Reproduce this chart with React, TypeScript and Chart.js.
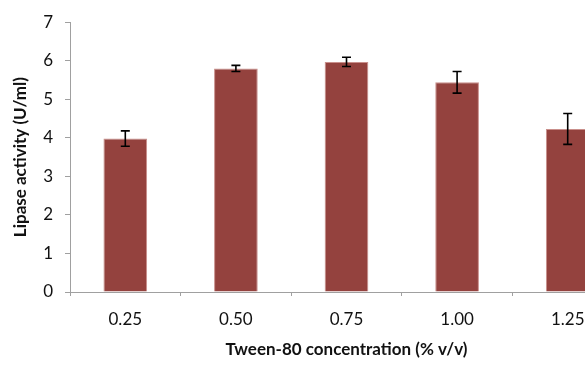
import React, { useEffect, useRef } from "react";
import { Chart, registerables } from "chart.js";

Chart.register(...registerables);

const categories = ["0.25", "0.50", "0.75", "1.00", "1.25"];
const activity = [3.98, 5.8, 5.97, 5.44, 4.23];
const errors = [0.2, 0.08, 0.12, 0.28, 0.4];
const yTicks = [0, 1, 2, 3, 4, 5, 6, 7];

const errorBarPlugin = {
  id: "errorBars",
  afterDatasetsDraw(chart: any) {
    const meta = chart.getDatasetMeta(0);
    const y = chart.scales.y;
    const ctx = chart.ctx;
    ctx.save();
    ctx.strokeStyle = "#000";
    ctx.lineWidth = 1.6;
    meta.data.forEach((bar: any, i: number) => {
      const x = bar.x;
      const top = y.getPixelForValue(activity[i] + errors[i]);
      const bot = y.getPixelForValue(activity[i] - errors[i]);
      const cap = 4.5;
      ctx.beginPath();
      ctx.moveTo(x, top);
      ctx.lineTo(x, bot);
      ctx.moveTo(x - cap, top);
      ctx.lineTo(x + cap, top);
      ctx.moveTo(x - cap, bot);
      ctx.lineTo(x + cap, bot);
      ctx.stroke();
    });
    ctx.restore();
  },
};

export default function App() {
  const ref = useRef<HTMLCanvasElement | null>(null);
  useEffect(() => {
    if (!ref.current) return;
    const font = "Lato, 'Open Sans', sans-serif";
    const chart = new Chart(ref.current, {
      type: "bar",
      data: {
        labels: categories,
        datasets: [
          {
            data: activity,
            backgroundColor: "#94423e",
            borderColor: "#c98f8b",
            borderWidth: 1,
            barPercentage: 0.395,
            categoryPercentage: 1,
          },
        ],
      },
      options: {
        animation: false,
        responsive: false,
        maintainAspectRatio: false,
        layout: { padding: { top: 17, right: 17, bottom: 0, left: 0 } },
        plugins: { legend: { display: false }, tooltip: { enabled: false } },
        scales: {
          x: {
            grid: {
              display: true,
              drawOnChartArea: false,
              drawTicks: true,
              tickLength: 4,
              color: "#a0a0a0",
              offset: true,
            },
            border: { color: "#a0a0a0", width: 1 },
            ticks: {
              color: "#111",
              font: { family: font, size: 17 },
              padding: 13,
              maxRotation: 0,
            },
            title: {
              display: true,
              text: "Tween-80 concentration (% v/v)",
              color: "#111",
              font: { family: font, size: 17, weight: "bold" },
              padding: { top: 0, bottom: 5 },
            },
            afterFit: (s: any) => {
              s.height = 73;
            },
          },
          y: {
            min: 0,
            max: 7,
            afterBuildTicks: (s: any) => {
              s.ticks = yTicks.map((v) => ({ value: v }));
            },
            grid: {
              display: true,
              drawOnChartArea: false,
              drawTicks: true,
              tickLength: 5,
              color: "#a0a0a0",
            },
            border: { color: "#a0a0a0", width: 1 },
            ticks: {
              color: "#111",
              font: { family: font, size: 17 },
              padding: 12,
            },
            title: {
              display: true,
              text: "Lipase activity (U/ml)",
              color: "#111",
              font: { family: font, size: 17, weight: "bold" },
              padding: { top: 10, bottom: 0 },
            },
            afterFit: (s: any) => {
              s.width = 70;
            },
          },
        },
      },
      plugins: [errorBarPlugin],
    });
    return () => chart.destroy();
  }, []);
  return (
    <div
      style={{
        position: "fixed",
        left: 0,
        top: 0,
        width: 585,
        height: 365,
        overflow: "hidden",
        background: "#fff",
      }}
    >
      <canvas ref={ref} width={640} height={365} style={{ display: "block" }} />
    </div>
  );
}
